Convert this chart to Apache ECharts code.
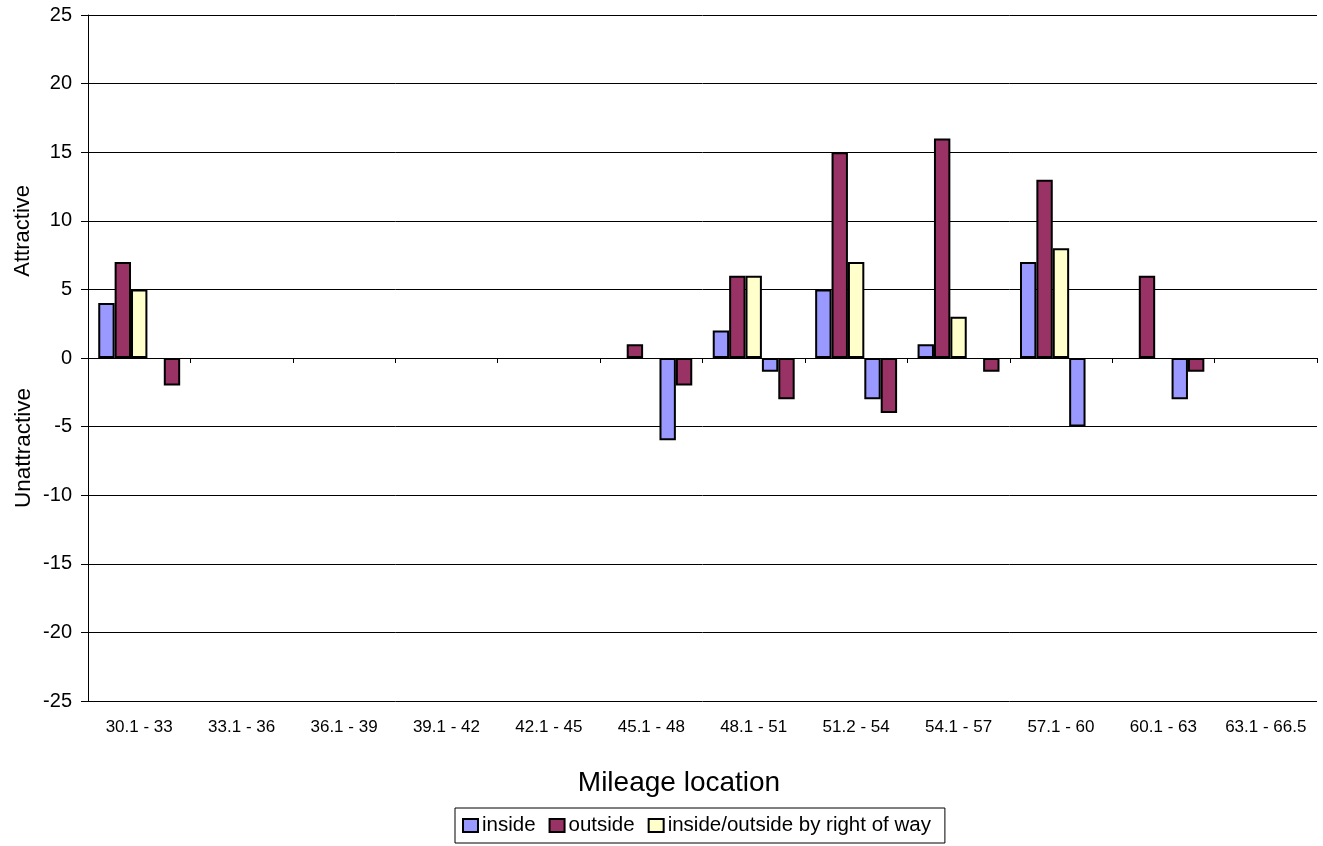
<!DOCTYPE html>
<html>
<head>
<meta charset="utf-8">
<script src="https://cdn.jsdelivr.net/npm/echarts@6/dist/echarts.min.js"></script>
<style>
html,body{margin:0;padding:0;background:#fff;}
#chart{width:1323px;height:846px;}
</style>
</head>
<body>
<div id="chart"></div>
<script>
var categories = ['30.1 - 33','33.1 - 36','36.1 - 39','39.1 - 42','42.1 - 45','45.1 - 48','48.1 - 51','51.2 - 54','54.1 - 57','57.1 - 60','60.1 - 63','63.1 - 66.5'];
var insideAttractive  = [4, '-', '-', '-', '-', '-', 2, 5, 1, 7, '-', '-'];
var outsideAttractive = [7, '-', '-', '-', '-', 1, 6, 15, 16, 13, 6, '-'];
var rowAttractive     = [5, '-', '-', '-', '-', '-', 6, 7, 3, 8, '-', '-'];
var insideUnattractive  = ['-', '-', '-', '-', '-', -6, -1, -3, '-', -5, -3, '-'];
var outsideUnattractive = [-2, '-', '-', '-', '-', -2, -3, -4, -1, '-', -1, '-'];
var yTicks = {min: -25, max: 25, interval: 5};

var C_IN = '#9999FF', C_OUT = '#993366', C_ROW = '#FFFFCC';
var font = 'Arial, "Liberation Sans", sans-serif';

function bar(name, data, color) {
  return {
    name: name, type: 'bar', data: data, xAxisIndex: 0,
    barGap: '0%', barCategoryGap: '20%',
    itemStyle: {color: color, borderColor: '#000', borderWidth: 2},
    emphasis: {disabled: true}
  };
}

var chart = echarts.init(document.getElementById('chart'), null, {renderer: 'canvas'});
chart.setOption({
  animation: false,
  backgroundColor: '#fff',
  grid: {left: 88, right: 6, top: 15, bottom: 145, containLabel: false},
  xAxis: [
    {
      type: 'category', data: categories, position: 'bottom',
      axisLine: {show: false, onZero: false},
      axisTick: {show: false},
      axisLabel: {color: '#000', fontSize: 17, fontFamily: font, margin: 18, interval: 0}
    },
    {
      type: 'category', data: categories, position: 'bottom',
      axisLine: {show: true, onZero: true, lineStyle: {color: '#000', width: 1}},
      axisTick: {show: true, length: 5, lineStyle: {color: '#000'}},
      axisLabel: {show: false}
    }
  ],
  yAxis: {
    type: 'value', min: yTicks.min, max: yTicks.max, interval: yTicks.interval,
    axisLine: {show: true, lineStyle: {color: '#000', width: 1}},
    axisTick: {show: true, length: 7, lineStyle: {color: '#000'}},
    axisLabel: {color: '#000', fontSize: 20, fontFamily: font, margin: 16},
    splitLine: {show: true, lineStyle: {color: '#000', width: 1}}
  },
  legend: {
    data: ['inside', 'outside', 'inside/outside by right of way'],
    left: 455, top: 808,
    padding: [7, 14, 7, 7],
    borderColor: '#000', borderWidth: 1,
    itemWidth: 15, itemHeight: 13, itemGap: 13,
    icon: 'rect',
    itemStyle: {borderColor: '#000', borderWidth: 2},
    textStyle: {color: '#000', fontSize: 20.5, fontFamily: font, padding: [0, 0, 0, -1]},
    selectedMode: false
  },
  graphic: [
    {type: 'text', left: 12, top: 185, rotation: Math.PI / 2,
     style: {text: 'Attractive', fill: '#000', font: '22px ' + font}},
    {type: 'text', left: 12, top: 388, rotation: Math.PI / 2,
     style: {text: 'Unattractive', fill: '#000', font: '22.5px ' + font}},
    {type: 'text', x: 679, y: 783,
     style: {text: 'Mileage location', fill: '#000', font: '28px ' + font, textAlign: 'center', textVerticalAlign: 'middle'}}
  ],
  series: [
    bar('inside', insideAttractive, C_IN),
    bar('outside', outsideAttractive, C_OUT),
    bar('inside/outside by right of way', rowAttractive, C_ROW),
    bar('inside', insideUnattractive, C_IN),
    bar('outside', outsideUnattractive, C_OUT)
  ]
});
</script>
</body>
</html>
